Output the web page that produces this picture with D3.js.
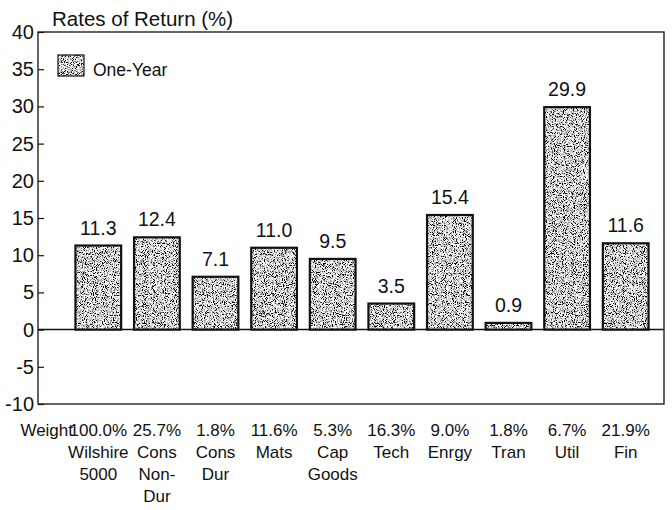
<!DOCTYPE html>
<html>
<head>
<meta charset="utf-8">
<script src="https://cdn.jsdelivr.net/npm/d3@7"></script>
<style>
  body { margin: 0; background: #fff; }
  svg text { font-family: "Liberation Sans", Arial, sans-serif; fill: #111; }
</style>
</head>
<body>
<svg></svg>
<script>
// Rates of return by sector, one-year
var categories = ["Wilshire 5000", "Cons Non-Dur", "Cons Dur", "Mats", "Cap Goods", "Tech", "Enrgy", "Tran", "Util", "Fin"]
var labelLines = [["Wilshire", "5000"], ["Cons", "Non-", "Dur"], ["Cons", "Dur"], ["Mats"], ["Cap", "Goods"],
                  ["Tech"], ["Enrgy"], ["Tran"], ["Util"], ["Fin"]]
var weights = ["100.0%", "25.7%", "1.8%", "11.6%", "5.3%", "16.3%", "9.0%", "1.8%", "6.7%", "21.9%"]
var returns = [11.3, 12.4, 7.1, 11.0, 9.5, 3.5, 15.4, 0.9, 29.9, 11.6]
var yTicks = [40, 35, 30, 25, 20, 15, 10, 5, 0, -5, -10]

var canvasSize = {width: 672, height: 510}
var frame = {left: 38, right: 664, top: 32, bottom: 404}

var svg = d3.select("svg")
    .attr("width", canvasSize.width)
    .attr("height", canvasSize.height)

// speckled grey fill like the printed original
var defs = svg.append("defs")
var filt = defs.append("filter").attr("id", "grain")
    .attr("x", 0).attr("y", 0).attr("width", 1).attr("height", 1)
filt.append("feTurbulence").attr("type", "fractalNoise")
    .attr("baseFrequency", 1.1).attr("numOctaves", 1).attr("seed", 4).attr("result", "n")
filt.append("feColorMatrix").attr("in", "n").attr("type", "matrix")
    .attr("values", "5 0 0 0 -1.85  5 0 0 0 -1.85  5 0 0 0 -1.85  0 0 0 0 1").attr("result", "g")
filt.append("feComposite").attr("in", "g").attr("in2", "SourceGraphic").attr("operator", "in")

var x = d3.scaleBand()
    .domain(categories)
    .range([69, 655])
    .paddingInner(0.22)
    .paddingOuter(0.11)

var y = d3.scaleLinear()
    .domain([-10, 40])
    .range([frame.bottom, frame.top])

// frame
svg.append("rect")
    .attr("x", frame.left).attr("y", frame.top)
    .attr("width", frame.right - frame.left).attr("height", frame.bottom - frame.top)
    .attr("fill", "none").attr("stroke", "#111").attr("stroke-width", 1.3)

// y axis: ticks point into the plot
var yAxis = d3.axisRight(y).tickValues(yTicks).tickSize(6).tickFormat("")
var yAxisG = svg.append("g").attr("transform", `translate(${frame.left},0)`).call(yAxis)
yAxisG.select(".domain").remove()
yAxisG.selectAll("line").attr("stroke", "#111").attr("stroke-width", 1.2)

svg.append("g").selectAll("text")
    .data(yTicks)
    .enter().append("text")
    .attr("x", 34)
    .attr("y", d => y(d) + 7)
    .attr("text-anchor", "end")
    .attr("font-size", 20)
    .text(d => d)

// zero line
svg.append("line")
    .attr("x1", frame.left).attr("x2", frame.right)
    .attr("y1", y(0)).attr("y2", y(0))
    .attr("stroke", "#111").attr("stroke-width", 1.5)

// bars
var bars = svg.append("g").selectAll("g")
    .data(returns)
    .enter().append("g")

bars.append("rect")
    .attr("x", (d, i) => x(categories[i]))
    .attr("y", d => y(Math.max(d, 0)))
    .attr("width", x.bandwidth())
    .attr("height", d => Math.abs(y(d) - y(0)))
    .attr("fill", "#888")
    .attr("filter", "url(#grain)")

bars.append("rect")
    .attr("x", (d, i) => x(categories[i]))
    .attr("y", d => y(Math.max(d, 0)))
    .attr("width", x.bandwidth())
    .attr("height", d => Math.abs(y(d) - y(0)))
    .attr("fill", "none")
    .attr("stroke", "#111")
    .attr("stroke-width", 2.2)

bars.append("text")
    .attr("x", (d, i) => x(categories[i]) + x.bandwidth() / 2)
    .attr("y", d => y(d) - 11)
    .attr("text-anchor", "middle")
    .attr("font-size", 19.5)
    .text(d => d.toFixed(1))

// title
svg.append("text")
    .attr("x", 52).attr("y", 26)
    .attr("font-size", 20.5)
    .text("Rates of Return (%)")

// legend
svg.append("rect")
    .attr("x", 58).attr("y", 55).attr("width", 26).attr("height", 21)
    .attr("fill", "#888").attr("filter", "url(#grain)")
svg.append("rect")
    .attr("x", 58).attr("y", 55).attr("width", 26).attr("height", 21)
    .attr("fill", "none").attr("stroke", "#111").attr("stroke-width", 1.2)
svg.append("text")
    .attr("x", 93).attr("y", 76)
    .attr("font-size", 17.5)
    .text("One-Year")

// category labels under the frame
var lineH = 22
var labelTop = 436
svg.append("text")
    .attr("x", 73).attr("y", labelTop)
    .attr("text-anchor", "end")
    .attr("font-size", 17)
    .text("Weight")

var catG = svg.append("g").selectAll("g")
    .data(categories)
    .enter().append("g")
    .attr("transform", d => `translate(${x(d) + x.bandwidth() / 2},${labelTop})`)

catG.append("text")
    .attr("text-anchor", "middle")
    .attr("font-size", 17)
    .text((d, i) => weights[i])

catG.each(function(d, i) {
    d3.select(this).selectAll("text.cat")
        .data(labelLines[i])
        .enter().append("text")
        .attr("class", "cat")
        .attr("y", (t, j) => (j + 1) * lineH)
        .attr("text-anchor", "middle")
        .attr("font-size", 17)
        .text(t => t)
})
</script>
</body>
</html>
